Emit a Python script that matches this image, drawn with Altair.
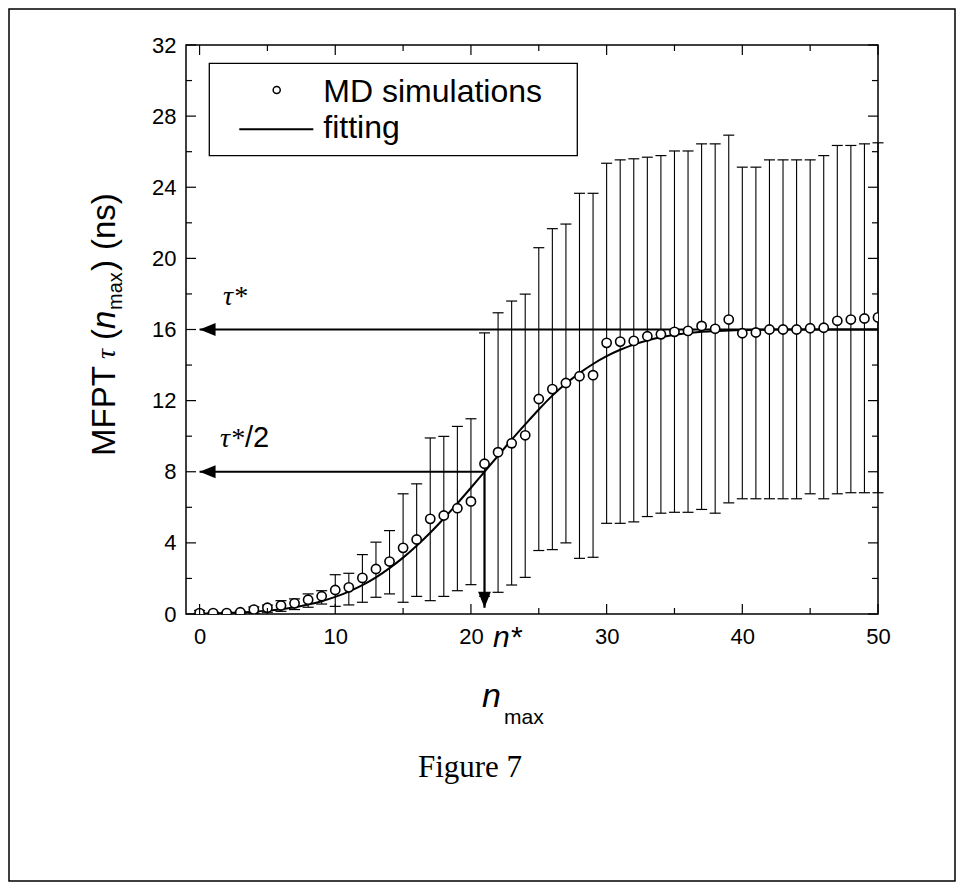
import altair as alt
import pandas as pd

# ---------------- data ----------------
n_max = list(range(51))
md_tau = [0.05, 0.05, 0.05, 0.10, 0.25, 0.35, 0.48, 0.60, 0.80, 1.00,
          1.35, 1.50, 2.03, 2.53, 2.95, 3.72, 4.19, 5.35, 5.54, 5.95,
          6.33, 8.45, 9.10, 9.60, 10.05, 12.09, 12.65, 12.99, 13.37, 13.43,
          15.25, 15.32, 15.36, 15.62, 15.73, 15.87, 15.92, 16.20, 16.04, 16.56,
          15.79, 15.83, 16.00, 16.00, 16.00, 16.07, 16.10, 16.49, 16.56, 16.62, 16.68]
err_low = [0.00, 0.00, 0.00, 0.00, 0.05, 0.10, 0.15, 0.25, 0.38, 0.56,
           0.43, 0.51, 0.66, 0.94, 1.13, 0.66, 0.99, 0.75, 0.99, 1.31,
           1.65, 1.00, 1.22, 1.63, 2.06, 3.57, 3.62, 4.00, 3.13, 3.19,
           5.10, 5.10, 5.18, 5.48, 5.67, 5.72, 5.72, 5.88, 5.67, 6.25,
           6.48, 6.48, 6.48, 6.48, 6.48, 6.76, 6.48, 6.76, 6.82, 6.82, 6.82]
err_high = [0.20, 0.10, 0.10, 0.15, 0.40, 0.50, 0.75, 0.85, 1.13, 1.31,
            2.21, 2.29, 3.34, 4.04, 4.69, 6.76, 7.32, 9.90, 9.99, 10.55,
            10.98, 15.81, 16.94, 17.60, 17.99, 20.60, 21.67, 21.93, 23.66, 23.66,
            25.35, 25.54, 25.60, 25.69, 25.78, 26.04, 26.04, 26.44, 26.44, 26.93,
            25.13, 25.13, 25.54, 25.54, 25.54, 25.54, 25.78, 26.35, 26.35, 26.44, 26.50]

fit_n = list(range(51))
fit_tau = [0.02, 0.04, 0.06, 0.09, 0.13, 0.19, 0.27, 0.38, 0.53, 0.72,
           0.96, 1.26, 1.62, 2.06, 2.58, 3.17, 3.84, 4.57, 5.37, 6.22,
           7.10, 8.00, 8.90, 9.80, 10.66, 11.50, 12.28, 12.96, 13.55, 14.06,
           14.50, 14.86, 15.15, 15.38, 15.56, 15.70, 15.80, 15.87, 15.92, 15.95,
           15.97, 15.98, 15.99, 16.00, 16.00, 16.00, 16.00, 16.00, 16.00, 16.00, 16.00]

tau_star = 16.0
tau_half = 8.0
n_star = 21.0
arrow_tip_y = 0.35

x_major = [0, 10, 20, 30, 40, 50]
x_minor = [5, 15, 25, 35, 45]
y_major = [0, 4, 8, 12, 16, 20, 24, 28, 32]
y_minor = [2, 6, 10, 14, 18, 22, 26, 30]

X_DOM = [-1, 50]
Y_DOM = [0, 32]
W, H = 692, 569
PX_X = W / (X_DOM[1] - X_DOM[0])
PX_Y = H / (Y_DOM[1] - Y_DOM[0])

SANS = "Liberation Sans"
SERIF = "Liberation Serif"

# ---------------- tables ----------------
df = pd.DataFrame({"n": n_max, "tau": md_tau, "lo": err_low, "hi": err_high})
caps = pd.DataFrame({"n": n_max + n_max, "v": err_low + err_high})
fit = pd.DataFrame({"n": fit_n, "tau": fit_tau})

xt = pd.DataFrame({"v": x_major + x_minor,
                   "L": [10] * len(x_major) + [6] * len(x_minor)})
xt["b1"] = Y_DOM[0]
xt["b2"] = Y_DOM[0] + xt["L"] / PX_Y
xt["t1"] = Y_DOM[1]
xt["t2"] = Y_DOM[1] - xt["L"] / PX_Y
yt = pd.DataFrame({"v": y_major + y_minor,
                   "L": [10] * len(y_major) + [6] * len(y_minor)})
yt["l1"] = X_DOM[0]
yt["l2"] = X_DOM[0] + yt["L"] / PX_X
yt["r1"] = X_DOM[1]
yt["r2"] = X_DOM[1] - yt["L"] / PX_X

harrows = pd.DataFrame({"y": [tau_star, tau_half], "x1": [0, 0], "x2": [X_DOM[1], n_star]})
varrow = pd.DataFrame({"x": [n_star], "y1": [arrow_tip_y], "y2": [tau_half]})
lheads = pd.DataFrame({"x": [0, 0], "y": [tau_star, tau_half]})
dhead = pd.DataFrame({"x": [n_star], "y": [arrow_tip_y]})
one = pd.DataFrame({"k": [0]})

xs = alt.Scale(domain=X_DOM, nice=False, zero=False)
ys = alt.Scale(domain=Y_DOM, nice=False, zero=False)
x_axis = alt.Axis(values=x_major, title=None, ticks=False, domain=False, grid=False,
                  labelFontSize=22, labelFont=SANS, labelColor="black",
                  labelPadding=12, labelFlush=False, labelOverlap=False)
y_axis = alt.Axis(values=y_major, title=None, ticks=False, domain=False, grid=False,
                  labelFontSize=22, labelFont=SANS, labelColor="black",
                  labelPadding=10, labelOverlap=False)


def X(f):
    return alt.X(f, type="quantitative", scale=xs, axis=x_axis)


def Y(f):
    return alt.Y(f, type="quantitative", scale=ys, axis=y_axis)


layers = []

# error bars
layers.append(alt.Chart(df).mark_rule(color="black", strokeWidth=1.1).encode(
    x=X("n"), y=Y("lo"), y2="hi"))
layers.append(alt.Chart(caps).mark_tick(color="black", orient="horizontal", size=11,
                                        thickness=1.2, opacity=1).encode(x=X("n"), y=Y("v")))
# fit
layers.append(alt.Chart(fit).mark_line(color="black", strokeWidth=2, interpolate="monotone",
                                       clip=True).encode(x=X("n"), y=Y("tau")))
# arrows
layers.append(alt.Chart(harrows).mark_rule(color="black", strokeWidth=2.2).encode(
    x=X("x1"), x2="x2", y=Y("y")))
layers.append(alt.Chart(varrow).mark_rule(color="black", strokeWidth=2.2).encode(
    x=X("x"), y=Y("y1"), y2="y2"))
layers.append(alt.Chart(lheads).mark_point(shape="M -1 0 L 1 -0.8 L 1 0.8 Z", size=256,
                                           filled=True, color="black", opacity=1,
                                           xOffset=8).encode(x=X("x"), y=Y("y")))
layers.append(alt.Chart(dhead).mark_point(shape="M 0 1 L -0.8 -1 L 0.8 -1 Z", size=256,
                                          filled=True, color="black", opacity=1,
                                          yOffset=-8).encode(x=X("x"), y=Y("y")))
# data points
layers.append(alt.Chart(df).mark_point(shape="circle", size=85, fill="white", stroke="black",
                                       strokeWidth=1.6, opacity=1, fillOpacity=1,
                                       clip=True).encode(x=X("n"), y=Y("tau")))
# inward ticks on all four sides
layers.append(alt.Chart(xt).mark_rule(color="black", strokeWidth=1.2).encode(
    x=X("v"), y=Y("b1"), y2="b2"))
layers.append(alt.Chart(xt).mark_rule(color="black", strokeWidth=1.2).encode(
    x=X("v"), y=Y("t1"), y2="t2"))
layers.append(alt.Chart(yt).mark_rule(color="black", strokeWidth=1.2).encode(
    y=Y("v"), x=X("l1"), x2="l2"))
layers.append(alt.Chart(yt).mark_rule(color="black", strokeWidth=1.2).encode(
    y=Y("v"), x=X("r1"), x2="r2"))


def txt(s, x, y, size, font=SANS, style="normal", angle=0, align="left"):
    return alt.Chart(one).mark_text(text=s, font=font, fontSize=size, fontStyle=style,
                                    angle=angle, align=align, baseline="alphabetic",
                                    color="black").encode(x=alt.value(x), y=alt.value(y))


# legend
layers.append(alt.Chart(one).mark_rect(fill="white", stroke="black", strokeWidth=1.3).encode(
    x=alt.value(23.3), x2=alt.value(391.3), y=alt.value(18.3), y2=alt.value(110.7)))
layers.append(alt.Chart(one).mark_point(shape="circle", size=50, fill="white", stroke="black",
                                        strokeWidth=1.5, opacity=1, fillOpacity=1).encode(
    x=alt.value(90.7), y=alt.value(45)))
layers.append(alt.Chart(one).mark_rule(color="black", strokeWidth=2).encode(
    x=alt.value(53.3), x2=alt.value(127.3), y=alt.value(84.3)))
layers.append(txt("MD simulations", 137.3, 56.7, 32))
layers.append(txt("fitting", 137.3, 93.3, 32))

# annotations
layers.append(txt("\u03c4*", 37, 260, 28, font=SERIF, style="italic"))
layers.append(txt("\u03c4*", 34, 402, 28, font=SERIF, style="italic"))
layers.append(txt("/2", 59, 402, 29))
layers.append(txt("n*", 307, 602, 30, style="italic"))

# y title pieces (rotated)
layers.append(txt("MFPT", -71, 411, 33, angle=270))
layers.append(txt("\u03c4", -71, 314, 28, font=SERIF, style="italic", angle=270))
layers.append(txt("(", -71, 295, 33, angle=270))
layers.append(txt("n", -71, 284, 33, style="italic", angle=270))
layers.append(txt("max", -64, 265, 20, angle=270))
layers.append(txt(")", -71, 226, 33, angle=270))
layers.append(txt("(ns)", -71, 205, 33, angle=270))

# x title
layers.append(txt("n", 296, 662, 34, style="italic"))
layers.append(txt("max", 318, 679, 21))

# caption
layers.append(txt("Figure 7", 284, 732, 31, font=SERIF, align="center"))

# outer frame
layers.append(alt.Chart(one).mark_rect(fillOpacity=0, stroke="black", strokeWidth=1.5).encode(
    x=alt.value(-177), x2=alt.value(769), y=alt.value(-36), y2=alt.value(836)))

chart = alt.layer(*layers).properties(
    width=W, height=H,
    autosize=alt.AutoSizeParams(type="none"),
    padding={"left": 178, "top": 37, "right": 78, "bottom": 268},
    background="white",
).configure_view(stroke="black", strokeWidth=1.5)

chart.save("out.html", embed_options={"renderer": "svg", "actions": False})
